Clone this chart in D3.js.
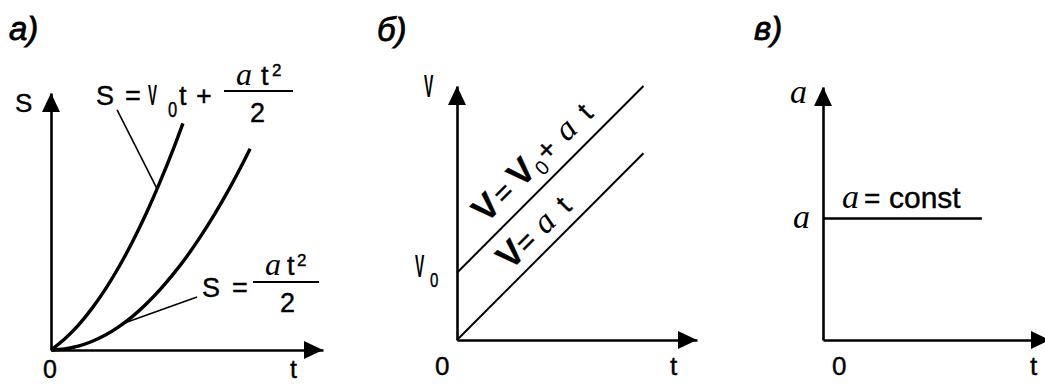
<!DOCTYPE html>
<html>
<head>
<meta charset="utf-8">
<script src="https://cdn.jsdelivr.net/npm/d3@7"></script>
<style>
  html, body { margin: 0; padding: 0; background: #fff; }
  svg { display: block; }
</style>
</head>
<body>
<svg id="chart" width="1045" height="384"></svg>
<script>
const SANS = '"Liberation Sans", Arial, sans-serif';
const SERIF = '"Liberation Serif", "Times New Roman", serif';

// а) path S against time t
const tCurveV0   = [0, 0.5, 1, 1.5, 2, 2.5, 3, 3.5, 4, 4.5, 4.85];
const sCurveV0   = [0, 0.43, 0.96, 1.61, 2.37, 3.24, 4.22, 5.31, 6.52, 7.83, 8.82];
const tCurveRest = [0, 0.5, 1, 1.5, 2, 2.5, 3, 3.5, 4, 4.5, 5, 5.5, 6, 6.5, 7, 7.32];
const sCurveRest = [0, 0.04, 0.15, 0.33, 0.58, 0.91, 1.31, 1.79, 2.34, 2.96, 3.65, 4.42, 5.26, 6.17, 7.16, 7.83];
// leader lines: [point on curve], [point near formula]  (t, S)
const leaderV0   = [[3.9, 6.27], [2.43, 9.34]];
const leaderRest = [[2.65, 1.03], [5.37, 2.06]];

// б) speed V against time t
const tLines    = [0, 10];
const vWithV0   = [3.6, 13.6];
const vFromRest = [0, 10];

// в) acceleration a against time t
const tConst = [0, 7];
const aConst = [4.8, 4.8];

const panelLabels = ["а)", "б)", "в)"];

const svg = d3.select("#chart");

function put(g, str, x, y, o = {}) {
  const t = g.append("text")
    .attr("font-family", o.serif ? SERIF : SANS)
    .attr("font-size", o.size || 26)
    .attr("fill", "#000")
    .text(str);
  if (o.serif || o.italic) t.attr("font-style", "italic");
  if (o.bold) t.attr("font-weight", "bold");
  const w = o.stroke != null ? o.stroke : (o.serif ? 0 : 0.4);
  if (w > 0) t.attr("stroke", "#000").attr("stroke-width", w);
  if (o.sx) t.attr("transform", `translate(${x},${y}) scale(${o.sx},1)`);
  else t.attr("x", x).attr("y", y);
  return t;
}

// bare axis line from the d3 axis generator, arrowhead at the far end
function axes(g, x, y) {
  g.append("g").attr("transform", `translate(0,${y(0)})`)
    .call(d3.axisBottom(x).tickValues([]).tickSizeOuter(0));
  g.append("g").attr("transform", `translate(${x(0)},0)`)
    .call(d3.axisLeft(y).tickValues([]).tickSizeOuter(0));
  g.selectAll(".domain").attr("stroke", "#000").attr("stroke-width", 2.6);
  const L = 19, H = 9;
  const xr = x.range()[1], yr = y.range()[1];
  g.append("path")
    .attr("d", `M${xr},${y(0)}L${xr - L},${y(0) - H}L${xr - L},${y(0) + H}Z`)
    .attr("fill", "#000");
  g.append("path")
    .attr("d", `M${x(0)},${yr}L${x(0) - H},${yr + L}L${x(0) + H},${yr + L}Z`)
    .attr("fill", "#000");
}

function fraction(g, x1, x2, yBar) {
  g.append("line").attr("x1", x1).attr("x2", x2).attr("y1", yBar).attr("y2", yBar)
    .attr("stroke", "#000").attr("stroke-width", 2.2);
}

// ---------- panel а ----------
{
  const g = svg.append("g");
  const x = d3.scaleLinear().domain([0, 10]).range([51, 323]);
  const y = d3.scaleLinear().domain([0, 10]).range([350, 93]);
  axes(g, x, y);

  const line = d3.line().x(d => x(d[0])).y(d => y(d[1])).curve(d3.curveCatmullRom);
  [[tCurveV0, sCurveV0], [tCurveRest, sCurveRest]].forEach(([ts, ss]) => {
    g.append("path")
      .attr("d", line(ts.map((t, i) => [t, ss[i]])))
      .attr("fill", "none").attr("stroke", "#000").attr("stroke-width", 3.4);
  });
  [leaderV0, leaderRest].forEach(pts => {
    g.append("path")
      .attr("d", d3.line().x(d => x(d[0])).y(d => y(d[1]))(pts))
      .attr("fill", "none").attr("stroke", "#000").attr("stroke-width", 1.6);
  });

  put(g, panelLabels[0], 9, 40, { size: 33, italic: true, stroke: 0.8 });
  put(g, "S", 15, 112, { size: 26 });
  put(g, "0", 43, 378, { size: 25 });
  put(g, "t", 290, 378, { size: 25 });

  // S = V0 t + a t² / 2
  put(g, "S", 96, 105, { size: 27 });
  put(g, "=", 125, 105, { size: 27 });
  put(g, "V", 148, 105, { size: 30, bold: true, sx: 0.45, stroke: 0 });
  put(g, "0", 168, 117, { size: 22, sx: 0.75 });
  put(g, "t", 179, 105, { size: 27 });
  put(g, "+", 196, 105, { size: 27 });
  fraction(g, 224, 293, 91);
  put(g, "a", 236, 85, { size: 32, serif: true });
  put(g, "t", 261, 85, { size: 27 });
  put(g, "2", 272, 76, { size: 17 });
  put(g, "2", 250, 122, { size: 27 });

  // S = a t² / 2
  put(g, "S", 202, 297, { size: 27 });
  put(g, "=", 232, 297, { size: 27 });
  fraction(g, 253, 319, 282);
  put(g, "a", 265, 275, { size: 32, serif: true });
  put(g, "t", 287, 275, { size: 27 });
  put(g, "2", 297, 266, { size: 17 });
  put(g, "2", 280, 312, { size: 27 });
}

// ---------- panel б ----------
{
  const g = svg.append("g");
  const x = d3.scaleLinear().domain([0, 12.87]).range([457, 697]);
  const y = d3.scaleLinear().domain([0, 13.6]).range([340, 86]);
  axes(g, x, y);

  const line = d3.line().x(d => x(d[0])).y(d => y(d[1]));
  [vWithV0, vFromRest].forEach(vs => {
    g.append("path")
      .attr("d", line(tLines.map((t, i) => [t, vs[i]])))
      .attr("fill", "none").attr("stroke", "#000").attr("stroke-width", 2);
  });

  put(g, panelLabels[1], 377, 41, { size: 33, italic: true, stroke: 0.8 });
  put(g, "V", 424, 97, { size: 31, bold: true, sx: 0.45, stroke: 0 });
  put(g, "V", 415, 277, { size: 31, bold: true, sx: 0.45, stroke: 0 });
  put(g, "0", 430, 287, { size: 20, sx: 0.75 });
  put(g, "0", 435, 375, { size: 26 });
  put(g, "t", 670, 375, { size: 26 });

  // formulas written along the lines
  function along(vs, tStart, offset, pieces) {
    const dx = x(tLines[1]) - x(tLines[0]);
    const dy = y(vs[1]) - y(vs[0]);
    const ang = Math.atan2(dy, dx) * 180 / Math.PI;
    const slope = (vs[1] - vs[0]) / (tLines[1] - tLines[0]);
    const px = x(tStart), py = y(vs[0] + slope * tStart);
    const lg = g.append("g").attr("transform", `translate(${px},${py}) rotate(${ang})`);
    pieces.forEach(p => put(lg, p.s, p.x, -offset + (p.dy || 0), p.o));
  }
  along(vWithV0, 2.08, 14, [
    { s: "V", x: 0, o: { size: 35, bold: true, stroke: 0.3 } },
    { s: "=", x: 26, o: { size: 29 } },
    { s: "V", x: 50, o: { size: 35, bold: true, stroke: 0.3 } },
    { s: "0", x: 74, dy: 7, o: { size: 20, stroke: 0 } },
    { s: "+", x: 87, o: { size: 29 } },
    { s: "a", x: 115, o: { size: 34, serif: true } },
    { s: "t", x: 146, o: { size: 28 } }
  ]);
  along(vFromRest, 3.28, 11, [
    { s: "V", x: 0, o: { size: 35, bold: true, stroke: 0.3 } },
    { s: "=", x: 23, o: { size: 29 } },
    { s: "a", x: 50, o: { size: 34, serif: true } },
    { s: "t", x: 81, o: { size: 28 } }
  ]);
}

// ---------- panel в ----------
{
  const g = svg.append("g");
  const x = d3.scaleLinear().domain([0, 10]).range([823, 1050]);
  const y = d3.scaleLinear().domain([0, 10]).range([340, 87]);
  axes(g, x, y);

  g.append("path")
    .attr("d", d3.line().x(d => x(d[0])).y(d => y(d[1]))(tConst.map((t, i) => [t, aConst[i]])))
    .attr("fill", "none").attr("stroke", "#000").attr("stroke-width", 2.4);

  put(g, panelLabels[2], 754, 40, { size: 33, italic: true, stroke: 0.8 });
  put(g, "a", 790, 103, { size: 34, serif: true });
  put(g, "a", 793, 228, { size: 34, serif: true });
  put(g, "a", 842, 208, { size: 34, serif: true });
  put(g, "=", 864, 208, { size: 28 });
  put(g, "const", 889, 208, { size: 30 });
  put(g, "0", 832, 375, { size: 26 });
  put(g, "t", 1030, 375, { size: 26 });
}
</script>
</body>
</html>
